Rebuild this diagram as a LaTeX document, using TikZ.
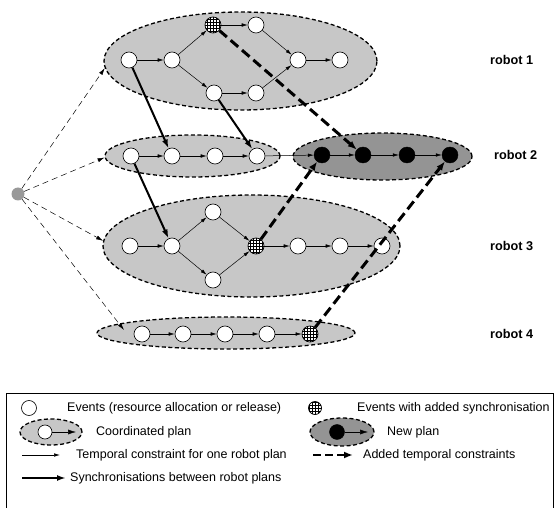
\documentclass[tikz,border=0pt]{standalone}
\usepackage{fontspec}
\setmainfont{Liberation Sans}
\usetikzlibrary{shapes.geometric,arrows.meta}
\begin{document}
\begin{tikzpicture}[x=1pt,y=-1pt,
  ev/.style={circle,draw,line width=0.6pt,fill=white,minimum size=16pt,inner sep=0pt},
  bev/.style={circle,draw,fill=black,minimum size=16pt,inner sep=0pt},
  hev/.style={circle,draw,line width=0.7pt,fill=white,minimum size=16pt,inner sep=0pt,
    path picture={\foreach \k in {-9,-6,...,9}{
      \draw[line width=0.75pt] ([xshift=\k pt]path picture bounding box.center) ++(0pt,-10pt) -- ++(0pt,20pt);
      \draw[line width=0.75pt] ([yshift=\k pt]path picture bounding box.center) ++(-10pt,0pt) -- ++(20pt,0pt);}}},
  plan/.style={ellipse,draw,fill=black!22,line width=1.3pt,dash pattern=on 4pt off 2.5pt,inner sep=0pt},
  newplan/.style={plan,fill=black!42},
  tc/.style={-{Latex[length=6pt,width=3.5pt]},line width=0.5pt},
  sync/.style={-{Latex[length=9pt,width=6pt]},line width=2pt},
  addc/.style={-{Latex[length=9pt,width=7pt]},line width=3pt,dash pattern=on 10pt off 5pt},
  init/.style={-{Latex[length=7pt,width=4pt]},line width=0.5pt,dash pattern=on 6pt off 4pt},
  lab/.style={font=\bfseries\fontsize{12.7}{15}\selectfont,anchor=west,inner sep=0pt},
  leg/.style={font=\fontsize{12.5}{15}\selectfont,anchor=west,inner sep=0pt}
]
\useasboundingbox (0,0) rectangle (558,508);

% plan ellipses
\node[plan,minimum width=273pt,minimum height=98pt] (r1) at (240.5,61) {};
\node[plan,minimum width=175pt,minimum height=42pt] (r2) at (192.5,156) {};
\node[newplan,minimum width=179pt,minimum height=47pt] (np) at (382.5,156.5) {};
\node[plan,minimum width=297pt,minimum height=102pt] (r3) at (251.5,246) {};
\node[plan,minimum width=258pt,minimum height=32pt] (r4) at (226,333) {};

% start node
\node[circle,fill=black!40,minimum size=13pt,inner sep=0pt] (s) at (18,194) {};

% robot 1 events
\node[ev] (a1) at (129,60) {};
\node[ev] (a2) at (172,60) {};
\node[hev] (h1) at (213,25) {};
\node[ev] (a3) at (256,25) {};
\node[ev] (b1) at (214,93) {};
\node[ev] (b2) at (256,93) {};
\node[ev] (a4) at (298,60) {};
\node[ev] (a5) at (340,60) {};

% robot 2 events
\node[ev] (q1) at (131,156) {};
\node[ev] (q2) at (172,156) {};
\node[ev] (q3) at (215,156) {};
\node[ev] (q4) at (257,156) {};
\node[bev] (k1) at (322,155) {};
\node[bev] (k2) at (363,155) {};
\node[bev] (k3) at (407,155) {};
\node[bev] (k4) at (450,155) {};

% robot 3 events
\node[ev] (c1) at (130,246) {};
\node[ev] (c2) at (172,246) {};
\node[ev] (d1) at (213,212) {};
\node[ev] (d2) at (213,280) {};
\node[hev] (h3) at (256,246) {};
\node[ev] (c3) at (298,246) {};
\node[ev] (c4) at (340,246) {};
\node[ev] (c5) at (382,246) {};

% robot 4 events
\node[ev] (e1) at (142,334) {};
\node[ev] (e2) at (183,334) {};
\node[ev] (e3) at (225,334) {};
\node[ev] (e4) at (267,334) {};
\node[hev] (h4) at (310,334) {};

% temporal constraints within plans
\draw[tc] (a1) -- (a2);
\draw[tc] (a2) -- (h1);
\draw[tc] (a2) -- (b1);
\draw[tc] (h1) -- (a3);
\draw[tc] (b1) -- (b2);
\draw[tc] (a3) -- (a4);
\draw[tc] (b2) -- (a4);
\draw[tc] (a4) -- (a5);
\draw[tc] (q1) -- (q2);
\draw[tc] (q2) -- (q3);
\draw[tc] (q3) -- (q4);
\draw[tc] (q4) -- (k1);
\draw[tc] (k1) -- (k2);
\draw[tc] (k2) -- (k3);
\draw[tc] (k3) -- (k4);
\draw[tc] (c1) -- (c2);
\draw[tc] (c2) -- (d1);
\draw[tc] (c2) -- (d2);
\draw[tc] (d1) -- (h3);
\draw[tc] (d2) -- (h3);
\draw[tc] (h3) -- (c3);
\draw[tc] (c3) -- (c4);
\draw[tc] (c4) -- (c5);
\draw[tc] (e1) -- (e2);
\draw[tc] (e2) -- (e3);
\draw[tc] (e3) -- (e4);
\draw[tc] (e4) -- (h4);

% initial dashed constraints
\coordinate (r4in) at (124,330);
\draw[init] (s) -- (r1.183);
\draw[init] (s) -- (r2.181);
\draw[init] (s) -- (r3.178);
\draw[init] (s) -- (r4in);

% synchronisations
\draw[sync] (a1) -- (q2);
\draw[sync] (b1) -- (q4);
\draw[sync] (q1) -- (c2);

% added temporal constraints
\draw[addc] (h1) -- (k2);
\draw[addc] (h3) -- (k1);
\draw[addc] (h4) -- (k4);

% robot labels
\node[lab] (l1) at (490,60) {robot 1};
\node[lab] (l2) at (494,155) {robot 2};
\node[lab] (l3) at (490,246) {robot 3};
\node[lab] (l4) at (490,334) {robot 4};

% legend
\draw[line width=0.8pt] (6,515) -- (6,393) -- (553,393) -- (553,515);
\node[ev,minimum size=15pt] (le) at (29,408) {};
\node[leg] (lt1) at (67,408) {Events (resource allocation or release)};
\node[hev,minimum size=13pt] (lh) at (315,408) {};
\node[leg] (lt2) at (357,408) {Events with added synchronisation};

\node[plan,minimum width=62pt,minimum height=26pt] (lp) at (51,432) {};
\node[ev,minimum size=14pt] (lpn) at (45,432) {};
\coordinate (lpe) at (76,432);
\draw[tc,-{Latex[length=8pt,width=5pt]}] (lpn) -- (lpe);
\node[leg] (lt3) at (96,432) {Coordinated plan};
\node[newplan,minimum width=64pt,minimum height=28pt] (ln) at (342,432) {};
\node[bev,minimum size=15pt] (lnn) at (337,432) {};
\coordinate (lne) at (368,432);
\draw[tc,-{Latex[length=8pt,width=5pt]}] (lnn) -- (lne);
\node[leg] (lt4) at (387,432) {New plan};

\coordinate (t1a) at (22,455);
\coordinate (t1b) at (60,455);
\draw[tc] (t1a) -- (t1b);
\node[leg] (lt5) at (76,455) {Temporal constraint for one robot plan};
\coordinate (t2a) at (313,455);
\coordinate (t2b) at (353,455);
\draw[addc,line width=2.2pt,dash pattern=on 8pt off 4pt] (t2a) -- (t2b);
\node[leg] (lt6) at (363,455) {Added temporal constraints};

\coordinate (t3a) at (22,478);
\coordinate (t3b) at (66,478);
\draw[sync] (t3a) -- (t3b);
\node[leg] (lt7) at (70,478) {Synchronisations between robot plans};
\end{tikzpicture}
\end{document}
